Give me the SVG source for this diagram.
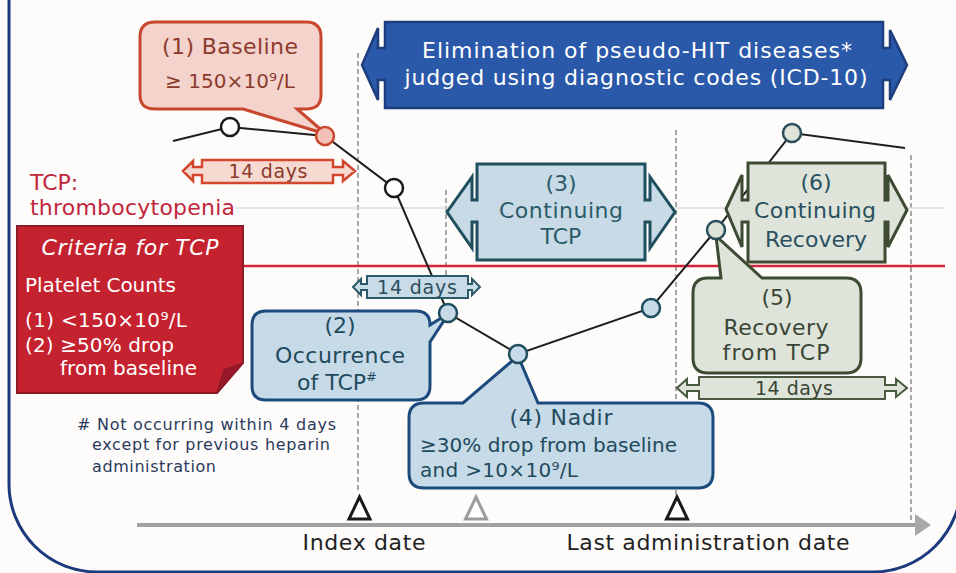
<svg xmlns="http://www.w3.org/2000/svg" width="956" height="573" viewBox="0 0 956 573">
<style>
text{font-family:"DejaVu Sans","Liberation Sans",sans-serif}
.red{fill:#f3d3cb;stroke:#c9472f;stroke-width:3}
.blu{fill:#c7dae8;stroke:#1c4a7c;stroke-width:3}
.teal{fill:#c7dae6;stroke:#1f4f5e;stroke-width:3}
.grn{fill:#dfe4da;stroke:#3c4b32;stroke-width:3}
.dash{stroke:#8a8a8a;stroke-width:1.5;stroke-dasharray:5 3;fill:none}
.tri{fill:#fff;stroke:#1a1a1a;stroke-width:3;stroke-linejoin:miter}
.c22{font-size:22px}
.c20{font-size:20px}
.c19{font-size:19px}
.c17{font-size:16px}
</style>
<rect x="0" y="0" width="956" height="573" fill="#fdfcfb"/>
<rect x="9" y="-120" width="952" height="692" rx="88" ry="88" fill="none" stroke="#1b3a7e" stroke-width="3"/>

<g id="guides">
<line class="dash" x1="358" y1="53" x2="358" y2="490"/>
<line class="dash" x1="446" y1="190" x2="446" y2="300"/>
<line class="dash" x1="676" y1="130" x2="676" y2="495"/>
<line class="dash" x1="911" y1="155" x2="911" y2="520"/>
<line x1="236" y1="208" x2="945" y2="208" stroke="#dcdcdc" stroke-width="1.5"/>
<line x1="243" y1="266" x2="945" y2="266" stroke="#d4233a" stroke-width="2.5"/>
</g>

<g id="axis">
<line x1="137" y1="525" x2="918" y2="525" stroke="#a2a2a2" stroke-width="4"/>
<polygon points="915,514 931,525 915,536" fill="#a8a8a8"/>
<polygon class="tri" points="359.5,497 349,519 370,519"/>
<polygon class="tri" points="476,497 465.5,519 486.5,519" style="stroke:#9c9c9c"/>
<polygon class="tri" points="677,497 666.5,519 687.5,519"/>
<text x="364" y="550" class="c22" fill="#222" text-anchor="middle" textLength="123">Index date</text>
<text x="708" y="550" class="c22" fill="#222" text-anchor="middle" textLength="283">Last administration date</text>
</g>

<g id="elimination">
<polygon points="362,65 378,28 378,48 385,48 385,22 883,22 883,48 890,48 890,30 907,65 890,100 890,80 883,80 883,108 385,108 385,80 378,80 378,100" fill="#2b59a9" stroke="#1d3d7c" stroke-width="2.5"/>
<text x="637" y="58" class="c22" fill="#fff" text-anchor="middle" textLength="430">Elimination of pseudo-HIT diseases*</text>
<text x="636" y="85" class="c22" fill="#fff" text-anchor="middle" textLength="463">judged using diagnostic codes (ICD-10)</text>
</g>

<g id="tcp-label">
<text x="30" y="190" class="c22" fill="#c1263b">TCP:</text>
<text x="30" y="215" class="c22" fill="#c1263b" textLength="205">thrombocytopenia</text>
</g>

<g id="criteria">
<path d="M17,226 H243 V363 L217,393 H17 Z" fill="#c5222f" stroke="#8c1b26" stroke-width="2"/>
<polygon points="217,393 224,370 243,363" fill="#96182a" stroke="#8c1b26" stroke-width="1.5"/>
<text x="130" y="255" class="c22" fill="#fff" font-style="italic" text-anchor="middle" textLength="177">Criteria for TCP</text>
<text x="25" y="292" class="c20" fill="#fff" textLength="151">Platelet Counts</text>
<text x="25" y="327" class="c20" fill="#fff" textLength="162">(1) &lt;150×10⁹/L</text>
<text x="25" y="352" class="c20" fill="#fff" textLength="149">(2) ≥50% drop</text>
<text x="60" y="375" class="c20" fill="#fff" textLength="137">from baseline</text>
</g>

<g id="footnote">
<text x="77" y="430" class="c17" fill="#2b3a5c" textLength="259">#  Not occurring within 4 days</text>
<text x="92" y="450" class="c17" fill="#2b3a5c" textLength="238">except for previous heparin</text>
<text x="92" y="472" class="c17" fill="#2b3a5c" textLength="124">administration</text>
</g>

<g id="curve">
<polyline points="173,141 230,127 325,136 394,188 448,313 518,354 651,308 716,230 792,133 905,148" fill="none" stroke="#1e1e1e" stroke-width="2"/>
<circle cx="230" cy="127" r="9" fill="#fff" stroke="#1a1a1a" stroke-width="2.5"/>
<circle cx="394" cy="188" r="9" fill="#fff" stroke="#1a1a1a" stroke-width="2.5"/>
</g>

<g id="baseline">
<path d="M155,22 H306 Q321,22 321,37 V95 Q321,109 306,109 H297 L326,134 L243,109 H155 Q140,109 140,95 V37 Q140,22 155,22 Z" class="red"/>
<circle cx="325" cy="136" r="9" fill="#f2c2b6" stroke="#c9472f" stroke-width="2.5"/>
<text x="230" y="54" class="c22" fill="#8c3a2c" text-anchor="middle" textLength="136">(1) Baseline</text>
<text x="230" y="88" class="c20" fill="#8c3a2c" text-anchor="middle" textLength="130">≥ 150×10⁹/L</text>
</g>

<g id="days-red">
<polygon points="183,171 193,161 193,167 202,167 202,160 333,160 333,167 343,167 343,161 355,171 343,181 343,175 333,175 333,183 202,183 202,175 193,175 193,181" fill="#f6d9d0" stroke="#d2472e" stroke-width="2.5"/>
<text x="268" y="178" class="c19" fill="#8c3a2c" text-anchor="middle" textLength="79">14 days</text>
</g>

<g id="continuing-tcp">
<polygon points="447,212 472,177 472,200 477,200 477,164 645,164 645,200 650,200 650,177 675,212 650,248 650,222 645,222 645,260 477,260 477,222 472,222 472,248" class="teal"/>
<text x="561" y="191" class="c22" fill="#2b5a6a" text-anchor="middle">(3)</text>
<text x="561" y="218" class="c22" fill="#2b5a6a" text-anchor="middle" textLength="124">Continuing</text>
<text x="561" y="244" class="c22" fill="#2b5a6a" text-anchor="middle">TCP</text>
</g>

<g id="days-blue">
<polygon points="353,287 361,279 361,284 367,284 367,276 468,276 468,284 472,284 472,279 480,287 472,295 472,290 468,290 468,298 367,298 367,290 361,290 361,295" fill="#c9dbe6" stroke="#2b5a6a" stroke-width="2"/>
<text x="417" y="294" class="c19" fill="#2a4f5e" text-anchor="middle" textLength="80">14 days</text>
</g>

<g id="occurrence">
<path d="M266,311 H416 Q430,311 430,325 L449,313 L430,342 V386 Q430,400 416,400 H266 Q252,400 252,386 V325 Q252,311 266,311 Z" class="blu"/>
<circle cx="448" cy="313" r="9" fill="#c7dae8" stroke="#1f4f5e" stroke-width="2.5"/>
<text x="340" y="333" class="c22" fill="#1e4a5c" text-anchor="middle">(2)</text>
<text x="340" y="363" class="c22" fill="#1e4a5c" text-anchor="middle" textLength="130">Occurrence</text>
<text x="337" y="390" class="c22" fill="#1e4a5c" text-anchor="middle">of TCP<tspan font-size="13" dy="-9">#</tspan></text>
</g>

<g id="nadir">
<path d="M424,403 H463 L518,356 L538,403 H698 Q713,403 713,418 V473 Q713,488 698,488 H424 Q409,488 409,473 V418 Q409,403 424,403 Z" class="blu"/>
<circle cx="518" cy="354" r="9" fill="#c7dae8" stroke="#1f4f5e" stroke-width="2.5"/>
<circle cx="651" cy="308" r="9" fill="#c7dae8" stroke="#1f4f5e" stroke-width="2.5"/>
<text x="561" y="425" class="c22" fill="#1e4a5c" text-anchor="middle" textLength="103">(4) Nadir</text>
<text x="420" y="452" class="c20" fill="#1e4a5c" textLength="257">≥30% drop from baseline</text>
<text x="420" y="477" class="c20" fill="#1e4a5c" textLength="158">and &gt;10×10⁹/L</text>
</g>

<g id="recovery">
<path d="M708,278 H721 L716,236 L762,278 H846 Q861,278 861,293 V358 Q861,373 846,373 H708 Q693,373 693,358 V293 Q693,278 708,278 Z" class="grn"/>
<circle cx="716" cy="230" r="9" fill="#dfe4da" stroke="#2a4f5a" stroke-width="2.5"/>
<text x="777" y="305" class="c22" fill="#3a4535" text-anchor="middle">(5)</text>
<text x="776" y="335" class="c22" fill="#3a4535" text-anchor="middle" textLength="105">Recovery</text>
<text x="776" y="360" class="c22" fill="#3a4535" text-anchor="middle" textLength="107">from TCP</text>
</g>

<g id="continuing-recovery">
<polygon points="726,209 742,175 742,200 748,200 748,163 885,163 885,200 888,200 888,175 907,210 888,247 888,222 885,222 885,262 748,262 748,222 742,222 742,247" class="grn"/>
<circle cx="792" cy="133" r="9" fill="#dfe4da" stroke="#2a4f5a" stroke-width="2.5"/>
<text x="816" y="190" class="c22" fill="#2a5060" text-anchor="middle">(6)</text>
<text x="815" y="218" class="c22" fill="#2a5060" text-anchor="middle" textLength="122">Continuing</text>
<text x="816" y="247" class="c22" fill="#2a5060" text-anchor="middle" textLength="102">Recovery</text>
</g>

<g id="days-green">
<polygon points="677,388 687,379 687,385 699,385 699,377 885,377 885,385 896,385 896,379 907,388 896,397 896,391 885,391 885,399 699,399 699,391 687,391 687,397" fill="#dfe4da" stroke="#4a5a40" stroke-width="2"/>
<text x="794" y="395" class="c19" fill="#3a4535" text-anchor="middle" textLength="78">14 days</text>
</g>
</svg>
